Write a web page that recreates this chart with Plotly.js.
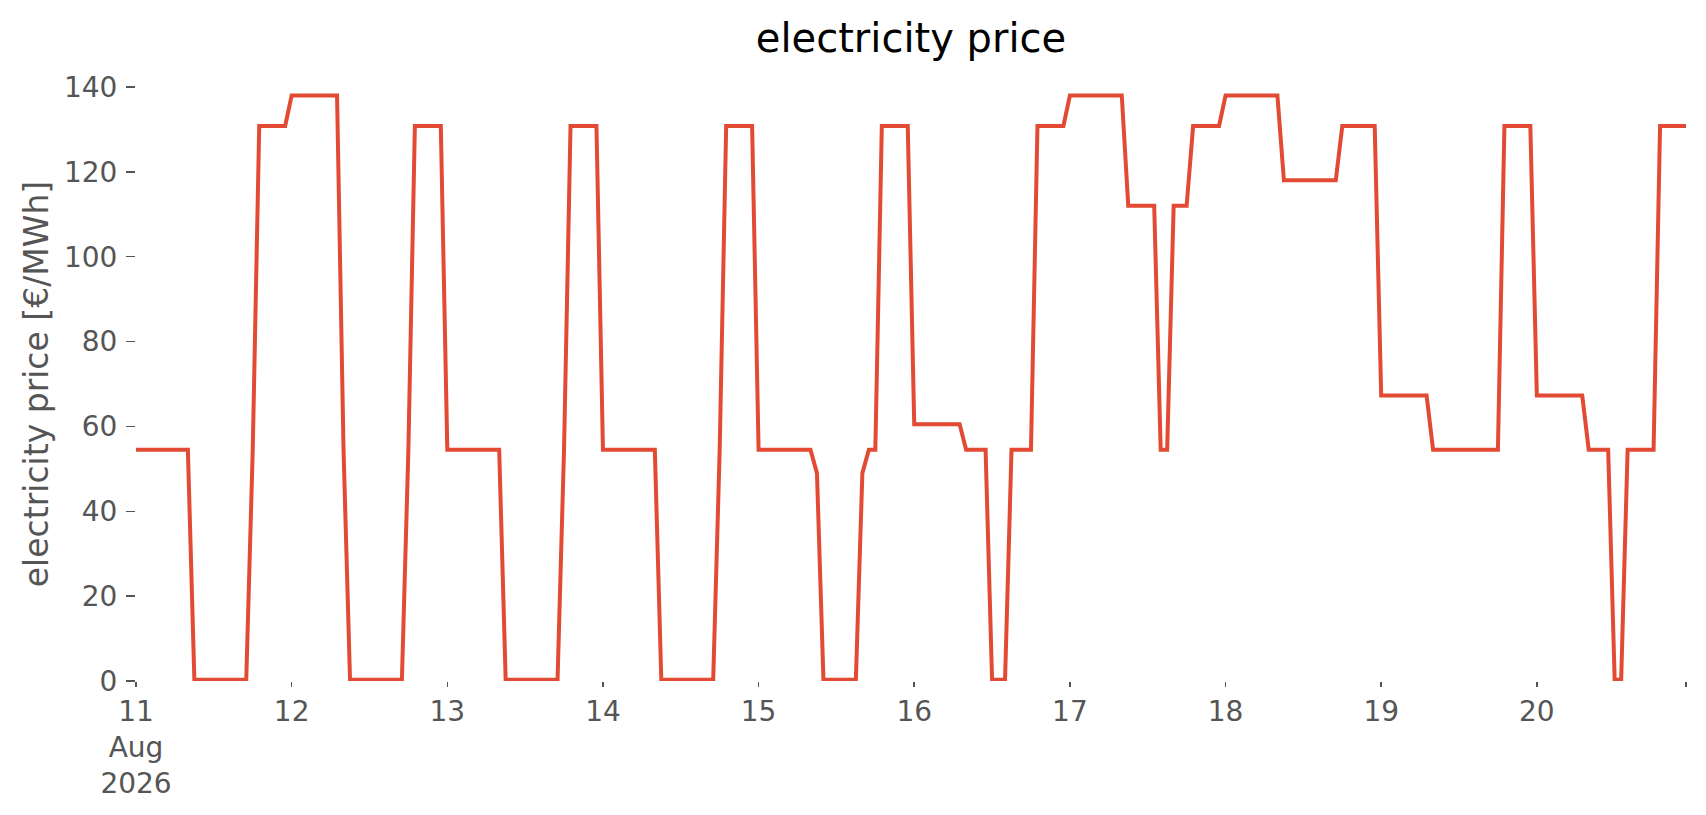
<!DOCTYPE html>
<html>
<head>
<meta charset="utf-8">
<script src="https://cdn.plot.ly/plotly-3.0.1.min.js"></script>
<style>
  html, body { margin: 0; padding: 0; background: #ffffff; }
  #chart { width: 1706px; height: 815px; }
</style>
</head>
<body>
<div id="chart"></div>
<script>
// ---- data (hourly electricity price, €/MWh) ----
const startTime = '2026-08-11T00:00:00';
const stepHours = 1;

const day11 = [54.5,54.5,54.5,54.5,54.5,54.5,54.5,54.5,54.5, 0.3,0.3,0.3,0.3,0.3,0.3,0.3,0.3,0.3, 54.5, 130.8,130.8,130.8,130.8,130.8];
const day12 = [138,138,138,138,138,138,138,138, 54.5, 0.3,0.3,0.3,0.3,0.3,0.3,0.3,0.3,0.3, 54.5, 130.8,130.8,130.8,130.8,130.8];
const day13 = [54.5,54.5,54.5,54.5,54.5,54.5,54.5,54.5,54.5, 0.3,0.3,0.3,0.3,0.3,0.3,0.3,0.3,0.3, 54.5, 130.8,130.8,130.8,130.8,130.8];
const day14 = [54.5,54.5,54.5,54.5,54.5,54.5,54.5,54.5,54.5, 0.3,0.3,0.3,0.3,0.3,0.3,0.3,0.3,0.3, 54.5, 130.8,130.8,130.8,130.8,130.8];
const day15 = [54.5,54.5,54.5,54.5,54.5,54.5,54.5,54.5,54.5, 49, 0.3,0.3,0.3,0.3,0.3,0.3, 49, 54.5,54.5, 130.8,130.8,130.8,130.8,130.8];
const day16 = [60.5,60.5,60.5,60.5,60.5,60.5,60.5,60.5, 54.5,54.5,54.5,54.5, 0.3,0.3,0.3, 54.5,54.5,54.5,54.5, 130.8,130.8,130.8,130.8,130.8];
const day17 = [138,138,138,138,138,138,138,138,138, 112,112,112,112,112, 54.5,54.5, 112,112,112, 130.8,130.8,130.8,130.8,130.8];
const day18 = [138,138,138,138,138,138,138,138,138, 118,118,118,118,118,118,118,118,118, 130.8,130.8,130.8,130.8,130.8,130.8];
const day19 = [67.3,67.3,67.3,67.3,67.3,67.3,67.3,67.3, 54.5,54.5,54.5,54.5,54.5,54.5,54.5,54.5,54.5,54.5,54.5, 130.8,130.8,130.8,130.8,130.8];
const day20 = [67.3,67.3,67.3,67.3,67.3,67.3,67.3,67.3, 54.5,54.5,54.5,54.5, 0.3,0.3, 54.5,54.5,54.5,54.5,54.5, 130.8,130.8,130.8,130.8,130.8];

const price = [].concat(day11, day12, day13, day14, day15, day16, day17, day18, day19, day20);

// ---- tick labels ----
const xTickVals = ['2026-08-11','2026-08-12','2026-08-13','2026-08-14','2026-08-15',
                   '2026-08-16','2026-08-17','2026-08-18','2026-08-19','2026-08-20','2026-08-20 23:00'];
const xTickText = ['11<br>Aug<br>2026','12','13','14','15','16','17','18','19','20',''];
const yTickVals = [0, 20, 40, 60, 80, 100, 120, 140];

const chartTitle = 'electricity price';
const yTitle = 'electricity price [€/MWh]';

// timestamps from start time + hourly index
function pad(n){ return (n < 10 ? '0' : '') + n; }
const t0 = new Date(startTime + 'Z').getTime();
const times = price.map((_, i) => {
  const d = new Date(t0 + i * stepHours * 3600 * 1000);
  return d.getUTCFullYear() + '-' + pad(d.getUTCMonth() + 1) + '-' + pad(d.getUTCDate()) +
         ' ' + pad(d.getUTCHours()) + ':00';
});

const trace = {
  x: times,
  y: price,
  type: 'scatter',
  mode: 'lines',
  line: { color: '#E24A33', width: 4 },
  hoverinfo: 'x+y'
};

const font = 'DejaVu Sans, Verdana, sans-serif';

const layout = {
  width: 1706,
  height: 815,
  paper_bgcolor: '#ffffff',
  plot_bgcolor: '#ffffff',
  margin: { l: 136, r: 20, t: 87, b: 134 },
  showlegend: false,
  font: { family: font, color: '#555555' },
  title: {
    text: chartTitle,
    font: { family: font, size: 40, color: '#000000' },
    x: 0.5, xref: 'paper', xanchor: 'center',
    y: 1 - 38 / 815, yref: 'container', yanchor: 'middle'
  },
  xaxis: {
    type: 'date',
    range: [times[0], times[times.length - 1]],
    tickmode: 'array',
    tickvals: xTickVals,
    ticktext: xTickText,
    ticks: 'outside',
    ticklen: 5,
    tickwidth: 1.5,
    tickcolor: '#555555',
    tickfont: { family: font, size: 28, color: '#555555' },
    showgrid: false,
    zeroline: false,
    showline: false
  },
  yaxis: {
    range: [0, 140],
    tickmode: 'array',
    tickvals: yTickVals,
    ticks: 'outside',
    ticklen: 9,
    tickwidth: 1.5,
    tickcolor: '#555555',
    ticklabelstandoff: 3,
    tickfont: { family: font, size: 28, color: '#555555' },
    showgrid: false,
    zeroline: false,
    showline: false,
    title: {
      text: yTitle,
      font: { family: font, size: 33, color: '#555555' },
      standoff: 5
    }
  }
};

Plotly.newPlot('chart', [trace], layout, { displayModeBar: false, staticPlot: true });
</script>
</body>
</html>
